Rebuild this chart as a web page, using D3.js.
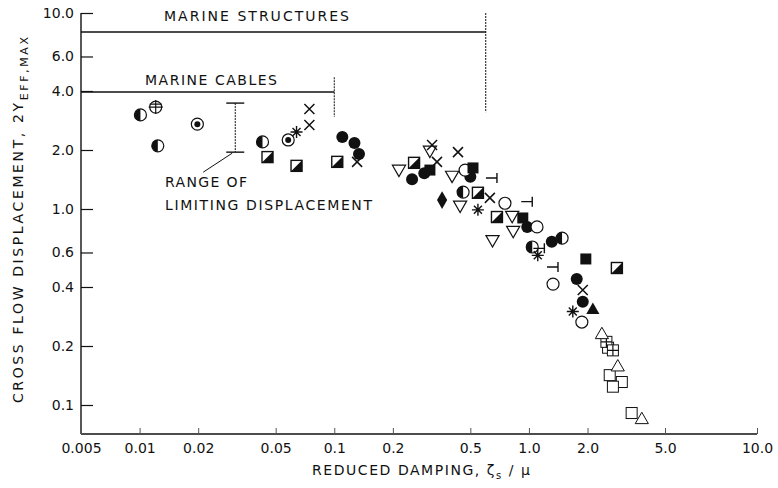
<!DOCTYPE html>
<html><head><meta charset="utf-8">
<script src="https://cdn.jsdelivr.net/npm/d3@7"></script>
<style>body{margin:0;background:#fff}text{font-family:"DejaVu Sans",sans-serif;fill:#111}</style>
</head><body><svg id="c" width="778" height="488"></svg>
<script>
// ---- data ----
const xTicks = [0.005,0.01,0.02,0.05,0.1,0.2,0.5,1.0,2.0,5.0,10.0];
const xTickLabels = ["0.005","0.01","0.02","0.05","0.1","0.2","0.5","1.0","2.0","5.0","10.0"];
const yTicks = [10,6,4,2,1,0.6,0.4,0.2,0.1];
const yTickLabels = ["10.0","6.0","4.0","2.0","1.0","0.6","0.4","0.2","0.1"];

const filledCircle = [[0.11,2.33],[0.127,2.17],[0.134,1.91],[0.251,1.42],[0.29,1.52],[0.50,1.46],[0.98,0.81],[1.31,0.68],[1.76,0.44],[1.89,0.336]];
const openCircle = [[0.753,1.07],[1.1,0.81],[1.33,0.414],[1.87,0.265],[0.47,1.58]];
const halfCircle = [[0.0101,3.02],[0.0124,2.10],[0.0428,2.20],[0.459,1.22],[1.04,0.64],[1.48,0.71]];
const crossCircle = [[0.0121,3.31]];
const dotCircle = [[0.0198,2.71],[0.058,2.25]];
const halfSquare = [[0.0454,1.84],[0.064,1.66],[0.1036,1.74],[0.257,1.72],[0.547,1.21],[0.685,0.91],[2.83,0.50]];
const filledSquare = [[0.31,1.58],[0.516,1.62],[0.93,0.90],[1.96,0.556]];
const openSquare = [[2.6,0.142],[3.0,0.131],[2.7,0.124],[3.37,0.091],[2.55,0.196]];
const crossSquare = [[2.5,0.21],[2.7,0.19]];
const openTriUp = [[2.37,0.228],[2.86,0.156],[3.8,0.084]];
const filledTriUp = [[2.13,0.305]];
const openTriDown = [[0.215,1.60],[0.31,2.0],[0.403,1.49],[0.443,1.05],[0.82,0.93],[0.83,0.78],[0.65,0.70]];
const filledDiamond = [[0.358,1.11]];
const crossMark = [[0.0745,3.24],[0.0745,2.68],[0.131,1.74],[0.318,2.12],[0.337,1.74],[0.432,1.95],[0.63,1.14],[1.89,0.386]];
const starMark = [[0.064,2.47],[0.547,0.99],[1.11,0.58],[1.68,0.30]];
const teeMark = [[0.685,1.44],[1.04,1.09],[1.41,0.506],[1.2,0.63]];

const structuresLine = [0.005, 0.6, 8.0];   // xStart, xEnd, y
const structuresStop = [10, 3.12];          // vertical extent at xEnd
const cablesLine = [0.005, 0.1, 3.95];
const cablesStop = [4.7, 2.95];
const limitRange = [0.031, 3.47, 1.95];     // x, top, bottom

// ---- scales ----
const svg = d3.select("#c");
const x = d3.scaleLog().domain([0.005, 5, 10]).range([81, 665, 757]);
const y = d3.scaleLog().domain([0.1, 10]).range([405, 13]);
const yBottom = 434;
const ink = "#111";

// axes lines
svg.append("line").attr("x1",81).attr("x2",81).attr("y1",y(10)).attr("y2",yBottom).attr("stroke",ink).attr("stroke-width",1.4);
svg.append("line").attr("x1",81).attr("x2",x(10)).attr("y1",yBottom).attr("y2",yBottom).attr("stroke",ink).attr("stroke-width",1.6);

const ya = d3.axisLeft(y).tickValues(yTicks).tickFormat((d,i)=>yTickLabels[i]).tickSize(-12).tickPadding(7);
const gy = svg.append("g").attr("transform","translate(81,0)").call(ya);
gy.select(".domain").remove();
gy.selectAll("line").attr("stroke",ink).attr("stroke-width",1.2);
gy.selectAll("text").style("font-size","14px").style("fill",ink).attr("font-family","DejaVu Sans");

const xa = d3.axisBottom(x).tickValues(xTicks).tickFormat((d,i)=>xTickLabels[i]).tickSize(-6).tickPadding(9);
const gx = svg.append("g").attr("transform",`translate(0,${yBottom})`).call(xa);
gx.select(".domain").remove();
gx.selectAll("line").attr("stroke","#555").attr("stroke-width",1);
gx.selectAll("text").style("font-size","14px").style("fill",ink).attr("font-family","DejaVu Sans");

// axis titles
const yt = svg.append("text").attr("transform","translate(23,403) rotate(-90)").attr("text-anchor","start")
  .style("font-size","14px").attr("textLength",366).attr("lengthAdjust","spacing");
yt.append("tspan").text("CROSS FLOW DISPLACEMENT, 2Y");
yt.append("tspan").attr("dy",5).style("font-size","11px").text("EFF,MAX");

const xt = svg.append("text").attr("x",312).attr("y",475).style("font-size","14px")
  .attr("textLength",218).attr("lengthAdjust","spacing");
xt.append("tspan").text("REDUCED DAMPING, ζ");
xt.append("tspan").attr("dy",4).style("font-size","10px").text("s");
xt.append("tspan").attr("dy",-4).text(" / μ");

// annotations
function ln(x1,y1,x2,y2,w,dash){const l=svg.append("line").attr("x1",x1).attr("y1",y1).attr("x2",x2).attr("y2",y2).attr("stroke",ink).attr("stroke-width",w);if(dash)l.attr("stroke-dasharray",dash);return l;}
ln(x(structuresLine[0]),y(structuresLine[2]),x(structuresLine[1]),y(structuresLine[2]),1.6);
ln(x(structuresLine[1]),y(structuresStop[0]),x(structuresLine[1]),y(structuresStop[1]),1,"2,1");
ln(x(cablesLine[0]),y(cablesLine[2]),x(cablesLine[1]),y(cablesLine[2]),1.6);
ln(x(cablesLine[1]),y(cablesStop[0]),x(cablesLine[1]),y(cablesStop[1]),1,"2,1");
svg.append("text").attr("x",164).attr("y",21).style("font-size","14px").attr("textLength",185).attr("lengthAdjust","spacing").text("MARINE STRUCTURES");
svg.append("text").attr("x",145).attr("y",85).style("font-size","14px").attr("textLength",132).attr("lengthAdjust","spacing").text("MARINE CABLES");

const lx = x(limitRange[0]);
ln(lx,y(limitRange[1]),lx,y(limitRange[2]),1,"2,1");
ln(lx-9,y(limitRange[1]),lx+9,y(limitRange[1]),1.4);
ln(lx-9,y(limitRange[2]),lx+9,y(limitRange[2]),1.4);
ln(lx-3,y(limitRange[2])+1,lx-32,y(limitRange[2])+20,1);
svg.append("text").attr("x",165).attr("y",187).style("font-size","14px").attr("textLength",82).attr("lengthAdjust","spacing").text("RANGE OF");
svg.append("text").attr("x",165).attr("y",210).style("font-size","14px").attr("textLength",207).attr("lengthAdjust","spacing").text("LIMITING DISPLACEMENT");

// markers
const g = svg.append("g");
function pts(arr){return arr.map(d=>[x(d[0]),y(d[1])]);}
const r = 6, s = 11;
pts(filledCircle).forEach(([cx,cy])=>g.append("circle").attr("cx",cx).attr("cy",cy).attr("r",r).attr("fill",ink));
pts(openCircle).forEach(([cx,cy])=>g.append("circle").attr("cx",cx).attr("cy",cy).attr("r",r).attr("fill","#fff").attr("stroke",ink).attr("stroke-width",1.2));
pts(halfCircle).forEach(([cx,cy])=>{
  g.append("circle").attr("cx",cx).attr("cy",cy).attr("r",r).attr("fill","#fff").attr("stroke",ink).attr("stroke-width",1.2);
  g.append("path").attr("d",`M${cx},${cy-r}A${r},${r} 0 0 0 ${cx},${cy+r}Z`).attr("fill",ink);
});
pts(crossCircle).forEach(([cx,cy])=>{
  g.append("circle").attr("cx",cx).attr("cy",cy).attr("r",r).attr("fill","#fff").attr("stroke",ink).attr("stroke-width",1.2);
  g.append("path").attr("d",`M${cx-r-1},${cy}H${cx+r+1}M${cx},${cy-r-1}V${cy+r+1}M${cx-r},${cy-3}H${cx+r}`).attr("stroke",ink).attr("stroke-width",1.2);
});
pts(dotCircle).forEach(([cx,cy])=>{
  g.append("circle").attr("cx",cx).attr("cy",cy).attr("r",r).attr("fill","#fff").attr("stroke",ink).attr("stroke-width",1.2);
  g.append("circle").attr("cx",cx).attr("cy",cy).attr("r",3).attr("fill",ink);
});
pts(halfSquare).forEach(([cx,cy])=>{
  g.append("rect").attr("x",cx-s/2).attr("y",cy-s/2).attr("width",s).attr("height",s).attr("fill","#fff").attr("stroke",ink).attr("stroke-width",1.4);
  g.append("path").attr("d",`M${cx+s/2},${cy-s/2}L${cx+s/2},${cy+s/2}L${cx-s/2},${cy+s/2}Z`).attr("fill",ink);
});
pts(filledSquare).forEach(([cx,cy])=>g.append("rect").attr("x",cx-s/2).attr("y",cy-s/2).attr("width",s).attr("height",s).attr("fill",ink));
pts(openSquare).forEach(([cx,cy])=>g.append("rect").attr("x",cx-s/2).attr("y",cy-s/2).attr("width",s).attr("height",s).attr("fill","#fff").attr("stroke",ink).attr("stroke-width",1));
pts(crossSquare).forEach(([cx,cy])=>{
  g.append("rect").attr("x",cx-s/2).attr("y",cy-s/2).attr("width",s).attr("height",s).attr("fill","#fff").attr("stroke",ink).attr("stroke-width",1);
  g.append("path").attr("d",`M${cx-s/2},${cy}H${cx+s/2}M${cx},${cy-s/2}V${cy+s/2}`).attr("stroke",ink).attr("stroke-width",1.2);
});
const tri = d3.symbol().type(d3.symbolTriangle).size(75);
pts(openTriUp).forEach(([cx,cy])=>g.append("path").attr("d",tri()).attr("transform",`translate(${cx},${cy})`).attr("fill","#fff").attr("stroke",ink).attr("stroke-width",1));
pts(filledTriUp).forEach(([cx,cy])=>g.append("path").attr("d",tri()).attr("transform",`translate(${cx},${cy})`).attr("fill",ink));
pts(openTriDown).forEach(([cx,cy])=>g.append("path").attr("d",tri()).attr("transform",`translate(${cx},${cy}) rotate(180)`).attr("fill","#fff").attr("stroke",ink).attr("stroke-width",1.2));
const dia = d3.symbol().type(d3.symbolDiamond).size(90);
pts(filledDiamond).forEach(([cx,cy])=>g.append("path").attr("d",dia()).attr("transform",`translate(${cx},${cy})`).attr("fill",ink));
pts(crossMark).forEach(([cx,cy])=>g.append("path").attr("d",`M${cx-5},${cy-5}L${cx+5},${cy+5}M${cx-5},${cy+5}L${cx+5},${cy-5}`).attr("stroke",ink).attr("stroke-width",1.5));
pts(starMark).forEach(([cx,cy])=>g.append("path").attr("d",`M${cx-6},${cy}H${cx+6}M${cx},${cy-6}V${cy+6}M${cx-4},${cy-4}L${cx+4},${cy+4}M${cx-4},${cy+4}L${cx+4},${cy-4}`).attr("stroke",ink).attr("stroke-width",1.4));
pts(teeMark).forEach(([cx,cy])=>g.append("path").attr("d",`M${cx-11},${cy}H${cx}M${cx},${cy-5}V${cy+5}`).attr("stroke",ink).attr("stroke-width",1.4));
</script></body></html>
